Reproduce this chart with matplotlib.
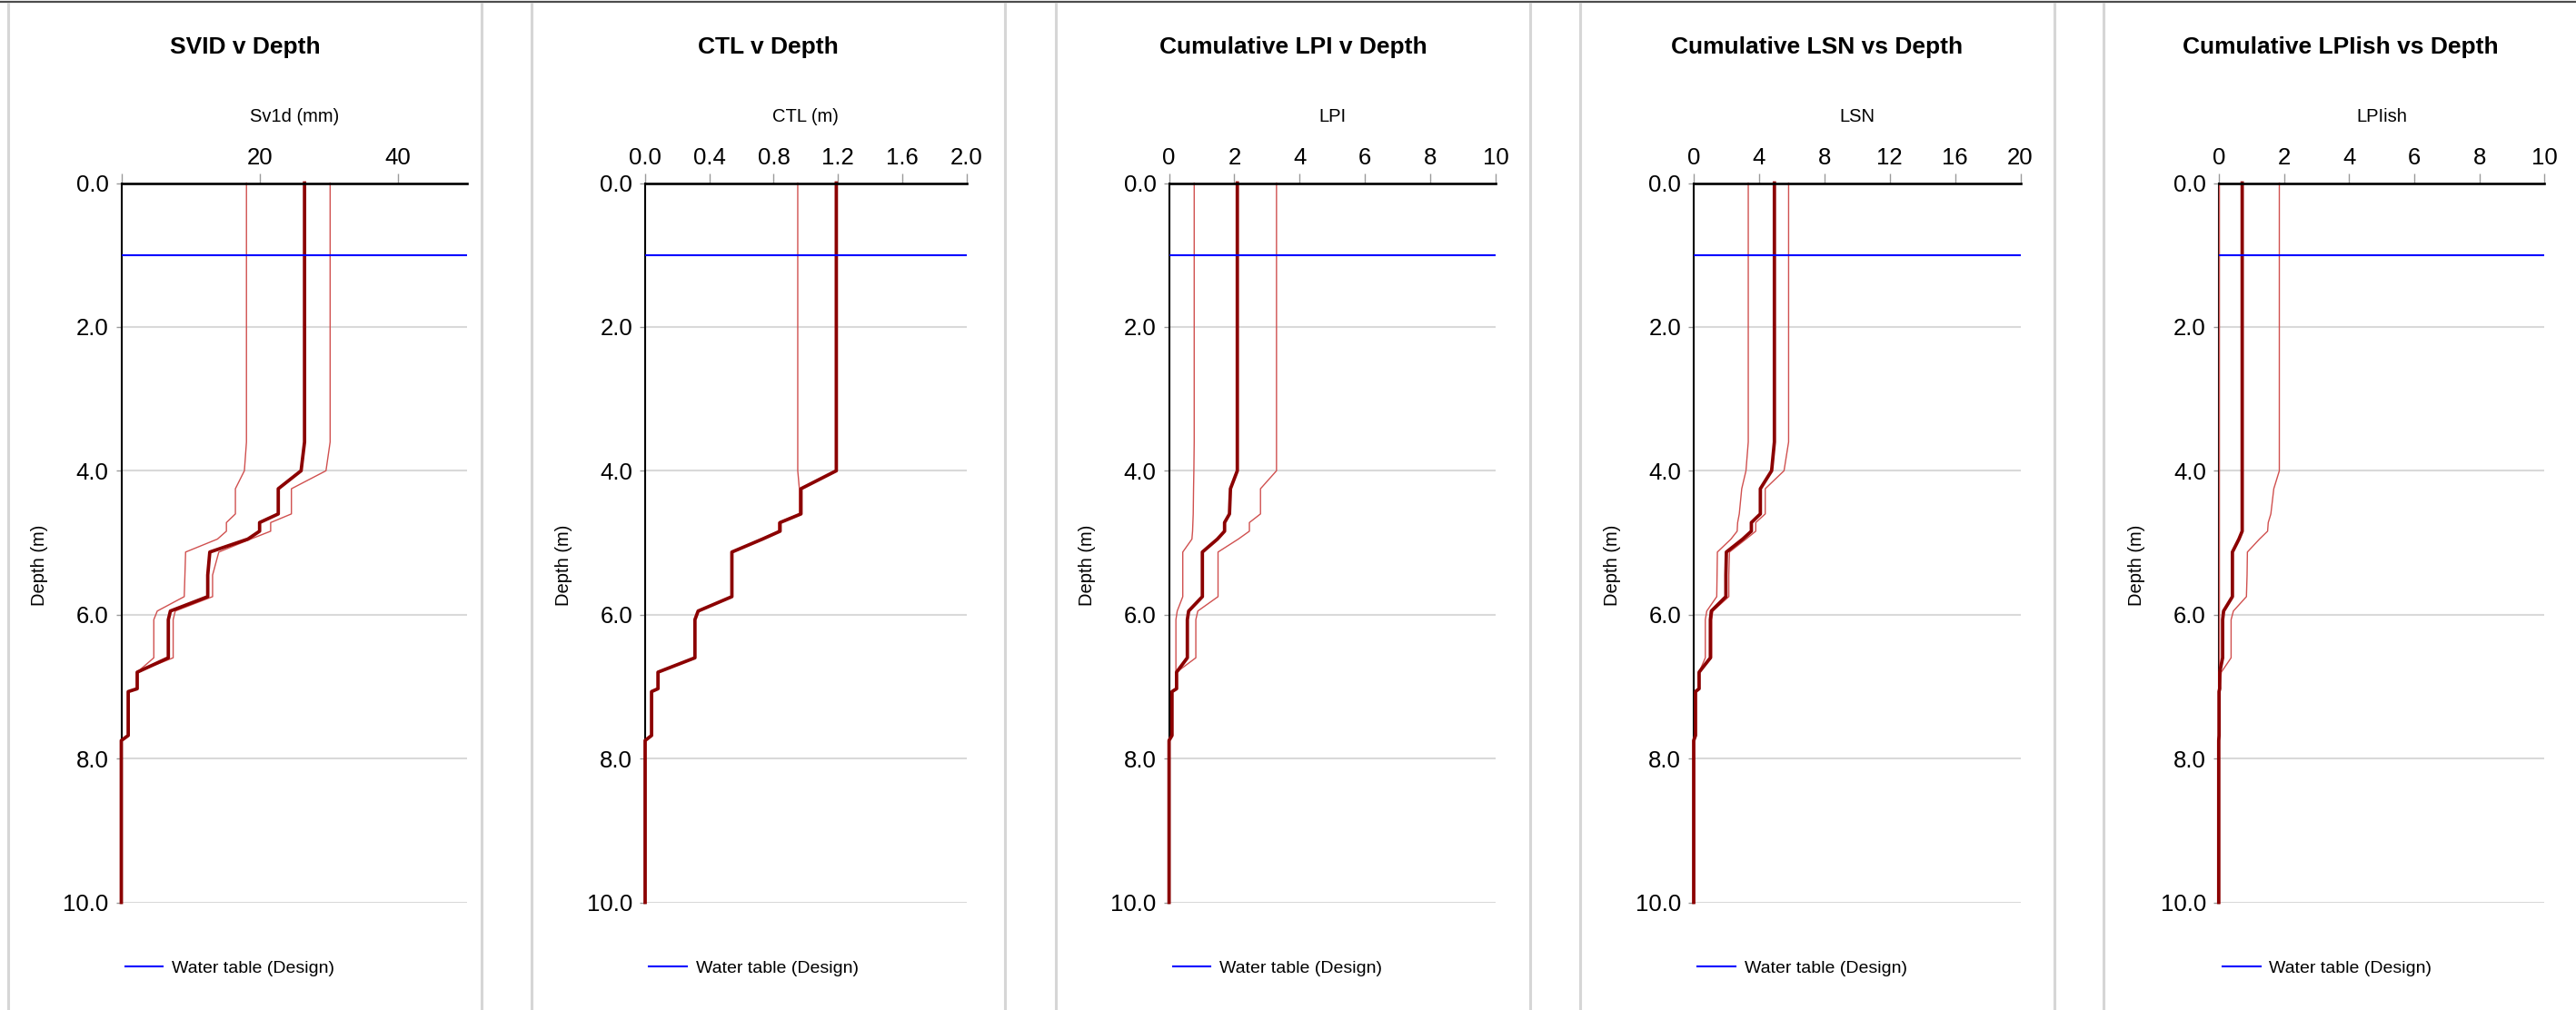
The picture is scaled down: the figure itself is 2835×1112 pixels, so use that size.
import matplotlib
matplotlib.use("Agg")
import matplotlib.pyplot as plt
from matplotlib.lines import Line2D

plt.rcParams["font.family"] = ["Liberation Sans", "DejaVu Sans"]

# ---- data -------------------------------------------------------------
DEPTH = [0.0, 3.6, 4.0, 4.25, 4.6, 4.72, 4.84, 4.95, 5.13, 5.45,
         5.75, 5.95, 6.07, 6.6, 6.8, 7.03, 7.07, 7.68, 7.75, 10.0]
WATER_TABLE = 1.0

sv1d_mid = [26.5, 26.5, 26.0, 22.7, 22.7, 20.0, 20.0, 18.3, 12.8, 12.5,
            12.5, 7.1, 6.8, 6.8, 2.3, 2.3, 1.0, 1.0, 0.0, 0.0]
sv1d_low = [18.1, 18.1, 17.8, 16.5, 16.5, 15.2, 15.2, 13.9, 9.3, 9.2,
            9.1, 5.2, 4.7, 4.7, 2.3, 2.3, 1.0, 1.0, 0.0, 0.0]
sv1d_high = [30.2, 30.2, 29.6, 24.6, 24.6, 21.6, 21.6, 18.7, 14.1, 13.2,
             13.2, 7.8, 7.5, 7.5, 2.3, 2.3, 1.0, 1.0, 0.0, 0.0]

ctl_mid = [1.19, 1.19, 1.19, 0.97, 0.97, 0.84, 0.84, 0.73, 0.54, 0.54,
           0.54, 0.33, 0.31, 0.31, 0.08, 0.08, 0.04, 0.04, 0.0, 0.0]
ctl_low = [0.95, 0.95, 0.95, 0.96, 0.96, 0.83, 0.83, 0.72, 0.54, 0.54,
           0.54, 0.33, 0.31, 0.31, 0.08, 0.08, 0.04, 0.04, 0.0, 0.0]
ctl_high = [1.19, 1.19, 1.19, 0.97, 0.97, 0.84, 0.84, 0.73, 0.54, 0.54,
            0.54, 0.33, 0.31, 0.31, 0.08, 0.08, 0.04, 0.04, 0.0, 0.0]

lpi_mid = [2.09, 2.09, 2.09, 1.88, 1.85, 1.70, 1.70, 1.48, 1.02, 1.02,
           1.02, 0.60, 0.56, 0.56, 0.23, 0.23, 0.09, 0.09, 0.0, 0.0]
lpi_low = [0.77, 0.77, 0.76, 0.75, 0.74, 0.73, 0.72, 0.70, 0.42, 0.42,
           0.42, 0.25, 0.21, 0.21, 0.21, 0.21, 0.09, 0.09, 0.0, 0.0]
lpi_high = [3.29, 3.29, 3.29, 2.80, 2.80, 2.46, 2.46, 2.12, 1.50, 1.50,
            1.50, 0.88, 0.82, 0.82, 0.23, 0.23, 0.09, 0.09, 0.0, 0.0]

lsn_mid = [4.94, 4.94, 4.77, 4.08, 4.08, 3.53, 3.53, 3.00, 2.00, 1.97,
           1.97, 1.08, 1.02, 1.02, 0.33, 0.33, 0.11, 0.11, 0.0, 0.0]
lsn_low = [3.34, 3.34, 3.20, 2.94, 2.79, 2.69, 2.66, 2.28, 1.45, 1.43,
           1.41, 0.80, 0.71, 0.71, 0.33, 0.33, 0.11, 0.11, 0.0, 0.0]
lsn_high = [5.81, 5.81, 5.53, 4.38, 4.38, 3.80, 3.80, 3.20, 2.19, 2.15,
            2.15, 1.17, 1.10, 1.10, 0.33, 0.33, 0.11, 0.11, 0.0, 0.0]

lpiish_mid = [0.72, 0.72, 0.72, 0.72, 0.72, 0.72, 0.72, 0.62, 0.42, 0.42,
              0.42, 0.15, 0.12, 0.12, 0.03, 0.03, 0.01, 0.01, 0.0, 0.0]
lpiish_low = [0.0] * 20
lpiish_high = [1.86, 1.86, 1.86, 1.69, 1.60, 1.52, 1.50, 1.25, 0.88, 0.87,
               0.85, 0.45, 0.38, 0.38, 0.08, 0.03, 0.01, 0.01, 0.0, 0.0]

titles = ["SVID v Depth", "CTL v Depth", "Cumulative LPI v Depth",
          "Cumulative LSN vs Depth", "Cumulative LPIish vs Depth"]
xlabels = ["Sv1d (mm)", "CTL (m)", "LPI", "LSN", "LPIish"]
xlims = [50, 2.0, 10, 20, 10]
xticks = [[0, 20, 40],
          [0.0, 0.4, 0.8, 1.2, 1.6, 2.0],
          [0, 2, 4, 6, 8, 10],
          [0, 4, 8, 12, 16, 20],
          [0, 2, 4, 6, 8, 10]]
xticklabels = [["", "20", "40"],
               ["0.0", "0.4", "0.8", "1.2", "1.6", "2.0"],
               ["0", "2", "4", "6", "8", "10"],
               ["0", "4", "8", "12", "16", "20"],
               ["0", "2", "4", "6", "8", "10"]]
yticks = [0, 2, 4, 6, 8, 10]
yticklabels = ["0.0", "2.0", "4.0", "6.0", "8.0", "10.0"]
series = [(sv1d_low, sv1d_high, sv1d_mid),
          (ctl_low, ctl_high, ctl_mid),
          (lpi_low, lpi_high, lpi_mid),
          (lsn_low, lsn_high, lsn_mid),
          (lpiish_low, lpiish_high, lpiish_mid)]

# ---- layout (pixels) --------------------------------------------------
W, H = 2835, 1112
fig = plt.figure(figsize=(W / 100, H / 100), dpi=100)
fig.patch.set_facecolor("white")

axes_px = [(133.5, 514.0), (710.0, 1063.6), (1286.6, 1646.0),
           (1864.0, 2223.5), (2441.8, 2800.4)]
card_px = [(9, 530), (585, 1106), (1162, 1684), (1739, 2261), (2315, 2836)]
ax_top, ax_bot = 201.5, 993.5

# page frame: top rule and card borders
fig.add_artist(Line2D([0, 1], [1 - 2 / H, 1 - 2 / H], transform=fig.transFigure,
                      color="#4d4d4d", lw=1.6))
for cl, cr in card_px:
    for xb in (cl, cr):
        if xb < W:
            fig.add_artist(Line2D([xb / W, xb / W], [0, 1 - 4 / H],
                                  transform=fig.transFigure,
                                  color="#d6d6d6", lw=2.2))

thin_color = "#d0504f"
thick_color = "#8b0000"

for i in range(5):
    l, r = axes_px[i]
    wpx = r - l
    ax = fig.add_axes([l / W, 1 - ax_bot / H, wpx / W, (ax_bot - ax_top) / H])
    ax.set_facecolor("none")
    ax.set_xlim(0, xlims[i])
    ax.set_ylim(10, 0)

    low, high, mid = series[i]
    ax.plot(low, DEPTH, color=thin_color, lw=1.0, clip_on=False, zorder=3)
    ax.plot(high, DEPTH, color=thin_color, lw=1.0, clip_on=False, zorder=3)
    ax.plot(mid, DEPTH, color=thick_color, lw=2.7, clip_on=False, zorder=4)
    ax.axhline(WATER_TABLE, color="#0000ff", lw=1.5, zorder=5)
    wt = Line2D([], [], color="#0000ff", lw=1.5)

    # grid and spines
    ax.set_yticks(yticks)
    ax.set_yticklabels(yticklabels)
    ax.grid(axis="y", color="#d9d9d9", lw=1.5, zorder=0)
    ax.set_axisbelow(True)
    for s in ("right", "bottom"):
        ax.spines[s].set_visible(False)
    ax.spines["top"].set_linewidth(1.9)
    ax.spines["left"].set_linewidth(1.5)
    ax.spines["top"].set_zorder(6)

    ax.xaxis.tick_top()
    ax.xaxis.set_label_position("top")
    ax.set_xticks(xticks[i])
    ax.set_xticklabels(xticklabels[i])
    ax.tick_params(axis="x", direction="out", length=8, width=1,
                   color="#9a9a9a", labelsize=18.5, pad=3.2)
    ax.tick_params(axis="y", direction="out", length=4, width=1,
                   color="#9a9a9a", labelsize=18.5, pad=6)

    ax.set_xlabel(xlabels[i], fontsize=14.5, va="center")
    ax.xaxis.set_label_coords(0.5, (ax_bot - 128) / (ax_bot - ax_top))
    ax.set_ylabel("Depth (m)", fontsize=14.5, va="center")
    ax.yaxis.set_label_coords(-90 / wpx, (ax_bot - 622) / (ax_bot - ax_top))

    ax.legend([wt], ["Water table (Design)"], loc="center left",
              bbox_to_anchor=(4 / wpx, (ax_bot - 1066) / (ax_bot - ax_top)),
              frameon=False, fontsize=14, borderpad=0, borderaxespad=0,
              handlelength=2.15, handletextpad=0.5)

    cl, cr = card_px[i]
    fig.text(((cl + min(cr, 2836)) / 2) / W, 1 - 52 / H, titles[i],
             ha="center", va="center", fontsize=19, fontweight="bold")

fig.savefig("out.png", dpi=100, facecolor="white")
